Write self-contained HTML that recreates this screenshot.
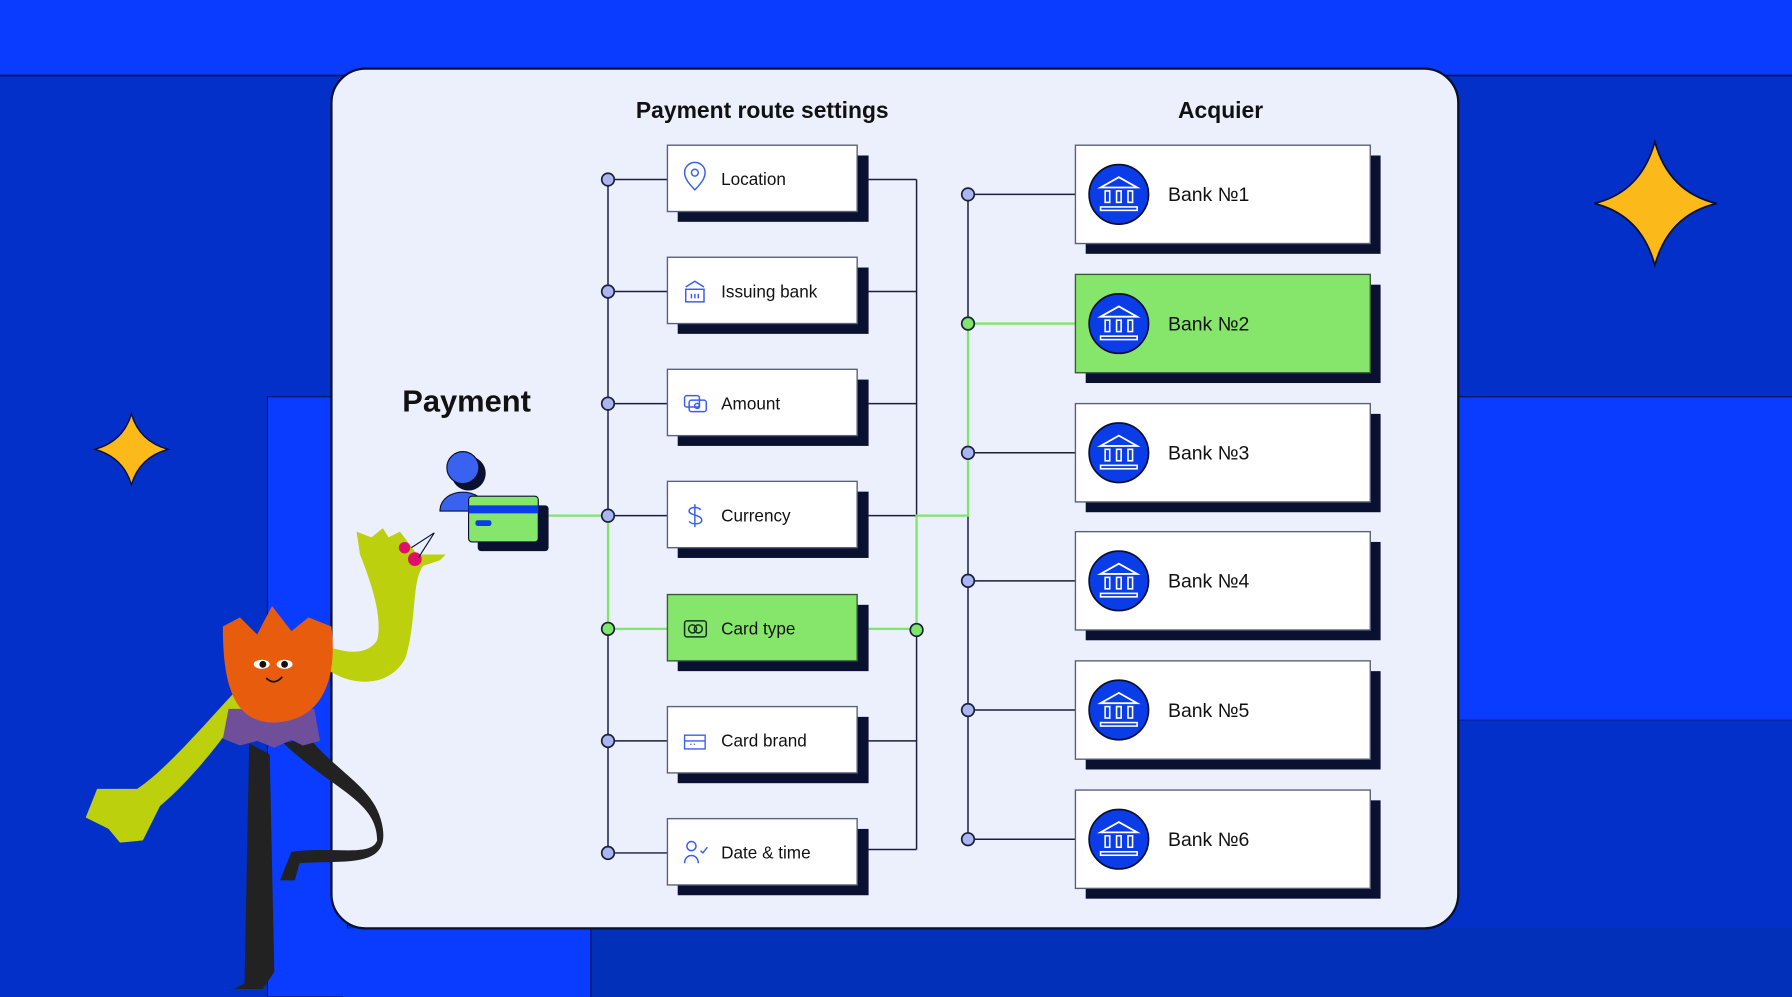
<!DOCTYPE html>
<html><head><meta charset="utf-8"><style>
html,body{margin:0;padding:0;width:1792px;height:997px;overflow:hidden;background:#0433d0}
svg{display:block}
text{font-family:"Liberation Sans",sans-serif;fill:#111}
</style></head><body>
<svg width="1792" height="997" viewBox="0 0 1568 872" preserveAspectRatio="none" xmlns="http://www.w3.org/2000/svg">
<defs>
<g id="bankicon"><circle r="26" fill="#0a3ce8" stroke="#0a1030" stroke-width="1.5"/>
<path d="M-16,-6 L0,-15 L16,-6 Z" fill="none" stroke="#fff" stroke-width="1.6"/>
<rect x="-12" y="-3" width="4" height="10" fill="none" stroke="#fff" stroke-width="1.4"/>
<rect x="-2" y="-3" width="4" height="10" fill="none" stroke="#fff" stroke-width="1.4"/>
<rect x="8" y="-3" width="4" height="10" fill="none" stroke="#fff" stroke-width="1.4"/>
<rect x="-16" y="11" width="32" height="3" fill="none" stroke="#fff" stroke-width="1.4"/></g>
</defs>
<rect x="0" y="0" width="1568" height="872" fill="#0330c8"/>
<rect x="0" y="0" width="1568" height="66" fill="#0a3cff"/>
<line x1="0" y1="66" x2="1568" y2="66" stroke="#05145a" stroke-width="1.5"/>
<rect x="234" y="347" width="70" height="525" fill="#0a3cff" stroke="#05145a" stroke-width="1"/>
<rect x="1276" y="347" width="292" height="283" fill="#0a3cff"/>
<line x1="1276" y1="347" x2="1568" y2="347" stroke="#05145a"/>
<line x1="1276" y1="630" x2="1568" y2="630" stroke="#05145a"/>
<rect x="1276" y="630" width="292" height="242" fill="#0330c8"/>
<rect x="300" y="812" width="217" height="60" fill="#0a3cff"/>
<rect x="517" y="812" width="1051" height="60" fill="#0330b8"/>
<line x1="517" y1="812" x2="517" y2="872" stroke="#05145a"/>
<path d="M1448,124 Q1460,168 1502,178 Q1460,188 1448,232 Q1436,188 1395,178 Q1436,168 1448,124Z" fill="#fbb91a" stroke="#0a1030" stroke-width="1.5"/>
<path d="M115,362 Q122,386 147,393 Q122,400 115,424 Q108,400 83,393 Q108,386 115,362Z" fill="#fbb91a" stroke="#0a1030" stroke-width="1.2"/>
<rect x="290" y="60" width="986" height="752" rx="30" fill="#eceffc" stroke="#0a1030" stroke-width="2"/>
<text x="667" y="103" text-anchor="middle" font-size="20" font-weight="bold">Payment route settings</text>
<text x="1068" y="103" text-anchor="middle" font-size="20" font-weight="bold">Acquier</text>
<text x="352" y="360" font-size="27" font-weight="bold">Payment</text>
<g stroke="#1a1f3a" stroke-width="1.3" fill="none">
<line x1="532" y1="157" x2="532" y2="746"/>
<line x1="802" y1="157" x2="802" y2="743"/>
<line x1="847" y1="170" x2="847" y2="734"/>
<line x1="532" y1="157" x2="584" y2="157"/><line x1="760" y1="157" x2="802" y2="157"/>
<line x1="532" y1="255" x2="584" y2="255"/><line x1="760" y1="255" x2="802" y2="255"/>
<line x1="532" y1="353" x2="584" y2="353"/><line x1="760" y1="353" x2="802" y2="353"/>
<line x1="532" y1="451" x2="584" y2="451"/><line x1="760" y1="451" x2="802" y2="451"/>
<line x1="532" y1="648" x2="584" y2="648"/><line x1="760" y1="648" x2="802" y2="648"/>
<line x1="532" y1="746" x2="584" y2="746"/><line x1="760" y1="743" x2="802" y2="743"/>
<line x1="847" y1="170" x2="941" y2="170"/>
<line x1="847" y1="396" x2="941" y2="396"/>
<line x1="847" y1="508" x2="941" y2="508"/>
<line x1="847" y1="621" x2="941" y2="621"/>
<line x1="847" y1="734" x2="941" y2="734"/>
</g>
<g stroke="#7ee66a" stroke-width="2" fill="none">
<polyline points="478,451 532,451 532,550 584,550"/>
<polyline points="760,550 802,550 802,451 847,451 847,283 941,283"/>
</g>
<g stroke="#1a1f3a" stroke-width="1.5" fill="#aab6f2">
<circle cx="532" cy="157" r="5.5"/><circle cx="532" cy="255" r="5.5"/><circle cx="532" cy="353" r="5.5"/><circle cx="532" cy="451" r="5.5"/><circle cx="532" cy="648" r="5.5"/><circle cx="532" cy="746" r="5.5"/>
<circle cx="847" cy="170" r="5.5"/><circle cx="847" cy="396" r="5.5"/><circle cx="847" cy="508" r="5.5"/><circle cx="847" cy="621" r="5.5"/><circle cx="847" cy="734" r="5.5"/>
</g>
<g stroke="#1a1f3a" stroke-width="1.5" fill="#7ee66a">
<circle cx="532" cy="550" r="5.5"/><circle cx="802" cy="551" r="5.5"/><circle cx="847" cy="283" r="5.5"/>
</g>
<g>
<g transform="translate(0,127)"><rect x="593" y="9" width="167" height="58" fill="#0a1030"/><rect x="584" y="0" width="166" height="58" fill="#fff" stroke="#5a5f7a" stroke-width="1.2"/></g>
<g transform="translate(0,225)"><rect x="593" y="9" width="167" height="58" fill="#0a1030"/><rect x="584" y="0" width="166" height="58" fill="#fff" stroke="#5a5f7a" stroke-width="1.2"/></g>
<g transform="translate(0,323)"><rect x="593" y="9" width="167" height="58" fill="#0a1030"/><rect x="584" y="0" width="166" height="58" fill="#fff" stroke="#5a5f7a" stroke-width="1.2"/></g>
<g transform="translate(0,421)"><rect x="593" y="9" width="167" height="58" fill="#0a1030"/><rect x="584" y="0" width="166" height="58" fill="#fff" stroke="#5a5f7a" stroke-width="1.2"/></g>
<g transform="translate(0,520)"><rect x="593" y="9" width="167" height="58" fill="#0a1030"/><rect x="584" y="0" width="166" height="58" fill="#86e66c" stroke="#3a5a3a" stroke-width="1.2"/></g>
<g transform="translate(0,618)"><rect x="593" y="9" width="167" height="58" fill="#0a1030"/><rect x="584" y="0" width="166" height="58" fill="#fff" stroke="#5a5f7a" stroke-width="1.2"/></g>
<g transform="translate(0,716)"><rect x="593" y="9" width="167" height="58" fill="#0a1030"/><rect x="584" y="0" width="166" height="58" fill="#fff" stroke="#5a5f7a" stroke-width="1.2"/></g>
</g>
<g font-size="15" font-weight="500">
<text x="631" y="162">Location</text>
<text x="631" y="260">Issuing bank</text>
<text x="631" y="358">Amount</text>
<text x="631" y="456">Currency</text>
<text x="631" y="555">Card type</text>
<text x="631" y="653">Card brand</text>
<text x="631" y="751">Date &amp; time</text>
</g>
<g fill="none" stroke="#3a5ef0" stroke-width="1.3">
<path d="M608,166 C600,158 599,154 599,151 A9,9 0 0 1 617,151 C617,154 616,158 608,166Z"/><circle cx="608" cy="151" r="3"/>
<path d="M600,251 L608,246 L616,251"/><rect x="600" y="253" width="16" height="11"/><path d="M605,257v4M608,257v4M611,257v4"/>
<rect x="599" y="346" width="13" height="10" rx="2"/><rect x="603" y="350" width="15" height="10" rx="2"/><circle cx="610" cy="355" r="2.2"/>
<path d="M613,446 C611,443 603,443 603,447 C603,451 614,450 614,455 C614,459 605,459 603,456 M608,441v20"/>
<path d="M599,648 h18 M599,643 h18 v12 h-18z M604,651h1 M607,651h1" stroke-width="1.2"/>
<circle cx="605" cy="740" r="4"/><path d="M599,755 C599,746 611,746 611,755"/><path d="M613,744 l2,2 l4,-5"/>
</g>
<g fill="none" stroke="#14301a" stroke-width="1.3">
<rect x="599" y="543" width="19" height="14" rx="2"/><circle cx="606" cy="550" r="3.5"/><circle cx="611" cy="550" r="3.5"/>
</g>
<g>
<rect x="950" y="136" width="258" height="86" fill="#0a1030"/><rect x="941" y="127" width="258" height="86" fill="#fff" stroke="#5a5f7a" stroke-width="1.2"/>
<rect x="950" y="249" width="258" height="86" fill="#0a1030"/><rect x="941" y="240" width="258" height="86" fill="#86e66c" stroke="#3a5a3a" stroke-width="1.2"/>
<rect x="950" y="362" width="258" height="86" fill="#0a1030"/><rect x="941" y="353" width="258" height="86" fill="#fff" stroke="#5a5f7a" stroke-width="1.2"/>
<rect x="950" y="474" width="258" height="86" fill="#0a1030"/><rect x="941" y="465" width="258" height="86" fill="#fff" stroke="#5a5f7a" stroke-width="1.2"/>
<rect x="950" y="587" width="258" height="86" fill="#0a1030"/><rect x="941" y="578" width="258" height="86" fill="#fff" stroke="#5a5f7a" stroke-width="1.2"/>
<rect x="950" y="700" width="258" height="86" fill="#0a1030"/><rect x="941" y="691" width="258" height="86" fill="#fff" stroke="#5a5f7a" stroke-width="1.2"/>
</g>
<use href="#bankicon" x="979" y="170"/><use href="#bankicon" x="979" y="283"/><use href="#bankicon" x="979" y="396"/>
<use href="#bankicon" x="979" y="508"/><use href="#bankicon" x="979" y="621"/><use href="#bankicon" x="979" y="734"/>
<g font-size="17" font-weight="500">
<text x="1022" y="176">Bank №1</text><text x="1022" y="289">Bank №2</text><text x="1022" y="402">Bank №3</text>
<text x="1022" y="514">Bank №4</text><text x="1022" y="627">Bank №5</text><text x="1022" y="740">Bank №6</text>
</g>
<circle cx="410" cy="414" r="15" fill="#0a1030"/>
<circle cx="405" cy="409" r="14" fill="#3a62f0" stroke="#0a1030" stroke-width="1"/>
<path d="M385,447 C385,425 425,425 425,447Z" fill="#3a62f0" stroke="#0a1030" stroke-width="1"/>
<rect x="418" y="442" width="62" height="40" rx="3" fill="#0a1030"/>
<rect x="410" y="434" width="61" height="40" rx="3" fill="#86e66c" stroke="#0a1030" stroke-width="1"/>
<rect x="410" y="442" width="61" height="7" fill="#0a3ce8"/>
<rect x="416" y="455" width="14" height="5" rx="2" fill="#0a3ce8"/>
<path d="M220,590 C190,620 150,670 120,690 L85,690 L75,715 L95,725 L105,737 L125,735 L140,705 C170,680 200,640 220,610Z" fill="#bcd00e"/>
<path d="M280,580 C300,600 340,605 355,575 C365,540 360,510 370,495 L385,490 L390,485 L365,485 L350,465 L340,470 L335,462 L325,470 L312,465 L315,485 C325,510 335,540 330,560 C320,575 300,570 285,565Z" fill="#bcd00e"/>
<circle cx="354" cy="479" r="5" fill="#e0106a"/><circle cx="363" cy="489" r="6" fill="#e0106a"/>
<path d="M360,479 L380,466 L366,488" fill="none" stroke="#0a1030" stroke-width="1"/>
<path d="M218,650 L214,860 L205,865 L230,865 L240,850 L236,660Z" fill="#222"/>
<path d="M248,650 C290,690 330,700 330,735 C325,750 290,740 255,745 L245,770 L258,770 L262,755 C300,752 340,760 335,725 C330,690 300,680 270,645Z" fill="#222"/>
<path d="M200,620 L275,620 L280,648 L265,652 L255,647 L240,654 L225,648 L210,652 L195,646Z" fill="#6f4e9a"/>
<path d="M195,548 L210,540 L225,555 L238,530 L255,552 L270,540 L290,548 C295,590 285,630 240,632 C205,632 195,600 195,548Z" fill="#e85c0e"/>
<ellipse cx="229" cy="581" rx="7" ry="4" fill="#fff"/><ellipse cx="249" cy="581" rx="7" ry="4" fill="#fff"/>
<circle cx="230" cy="581" r="3" fill="#111"/><circle cx="249" cy="581" r="3" fill="#111"/>
<path d="M233,593 Q240,600 247,592" fill="none" stroke="#111" stroke-width="1.5"/>
</svg>
</body></html>
